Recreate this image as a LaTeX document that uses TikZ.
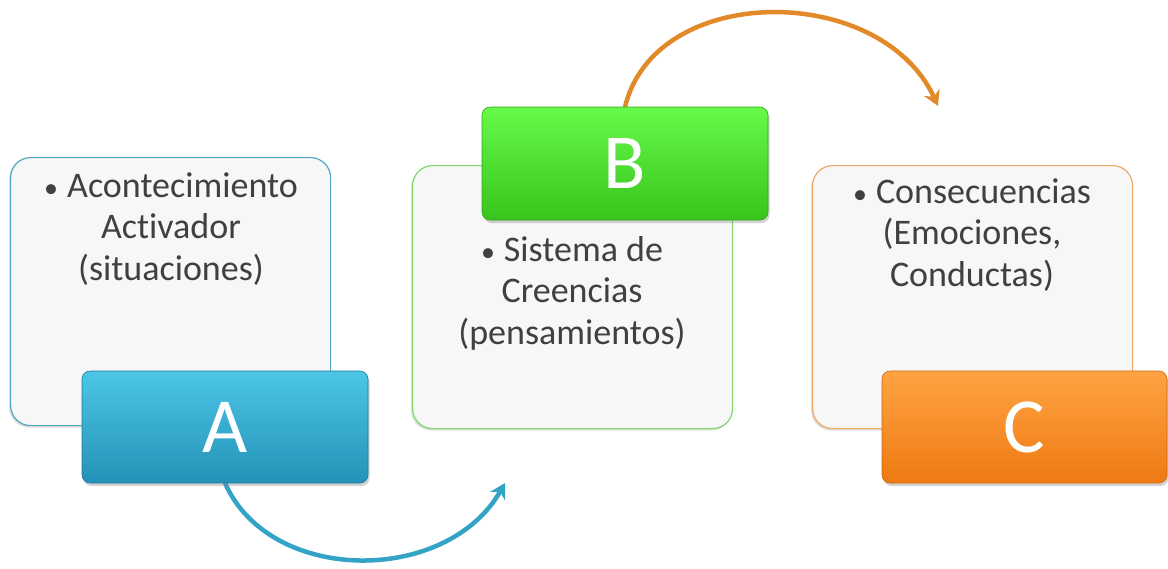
\documentclass[tikz,border=0pt]{standalone}
\usepackage{fontspec}
\setmainfont{Carlito}[Ligatures=NoCommon]
\usetikzlibrary{arrows.meta,shadows}
\definecolor{txt}{HTML}{404040}
\definecolor{panelfill}{HTML}{F7F7F7}
\definecolor{edgeA}{HTML}{4FA9C2}
\definecolor{edgeB}{HTML}{7ED96A}
\definecolor{edgeC}{HTML}{F0A868}
\definecolor{blueTop}{HTML}{4CC6E6}
\definecolor{blueBot}{HTML}{2492B8}
\definecolor{greenTop}{HTML}{66FA4A}
\definecolor{greenBot}{HTML}{38C41C}
\definecolor{orangeTop}{HTML}{FFA343}
\definecolor{orangeBot}{HTML}{EE7A12}
\definecolor{blueArrow}{HTML}{33A3C6}
\definecolor{orangeArrow}{HTML}{E28A2A}
\newcommand{\blt}{{\fontsize{28}{28}\selectfont\textbullet}\hspace{9pt}}
\tikzset{
  panel/.style={draw=#1, line width=1.2pt, fill=panelfill, rounded corners=20pt,
    minimum width=320pt, inner sep=0pt, anchor=north west,
    drop shadow={shadow xshift=-1.5pt, shadow yshift=-2pt, opacity=0.25}},
  paneltext/.style={text=txt, align=center, anchor=north, inner sep=0pt,
    font=\fontsize{36}{41.5}\selectfont},
  letterbox/.style n args={3}{top color=#1, bottom color=#2, draw=#3, line width=0.6pt,
    rounded corners=8pt, minimum width=286pt, minimum height=112pt, inner sep=0pt,
    text=white, font=\fontsize{78}{78}\selectfont,
    drop shadow={shadow xshift=1.5pt, shadow yshift=-3pt, opacity=0.35}},
  flow/.style={line width=4.5pt, draw=#1, line cap=round,
    -{Stealth[length=15pt,width=17pt,inset=5pt]}}
}
\begin{document}
\begin{tikzpicture}[x=1pt,y=-1pt]
\useasboundingbox (0,0) rectangle (1168,568);
% text panels
\node[panel=edgeA, minimum height=268pt] (pA) at (10,157) {};
\node[panel=edgeB, minimum height=263pt] (pB) at (412,165) {};
\node[panel=edgeC, minimum height=263pt] (pC) at (812,165) {};
\node[paneltext] (tA) at (171,167) {\rule{0pt}{30pt}\blt Acontecimiento\\Activador\\(situaciones)};
\node[paneltext] (tB) at (572,231) {\rule{0pt}{30pt}\blt Sistema de\\Creencias\\(pensamientos)};
\node[paneltext] (tC) at (972,173) {\rule{0pt}{30pt}\blt Consecuencias\\(Emociones,\\Conductas)};
% arrows end points
\coordinate (tipA) at (505,483);
\coordinate (tipB) at (938,106);
% letter box positions
\coordinate (cA) at (225,427);
\coordinate (cB) at (625,163.5);
\coordinate (cC) at (1024.5,427);
% arrows (under boxes)
\path (cA) ++(0,56) coordinate (sA);
\path (cB) ++(0,-56.5) coordinate (sB);
\draw[flow=blueArrow] (sA) .. controls (270,585) and (447,585) .. (tipA);
\draw[flow=orangeArrow] (sB) .. controls (655,-18) and (881,-18) .. (tipB);
% letter boxes
\node[letterbox={blueTop}{blueBot}{blueBot!85!black}] (bA) at (cA) {A};
\node[letterbox={greenTop}{greenBot}{greenBot!85!black}, minimum height=113pt] (bB) at (cB) {B};
\node[letterbox={orangeTop}{orangeBot}{orangeBot!85!black}, minimum width=285pt] (bC) at (cC) {C};
\end{tikzpicture}
\end{document}
